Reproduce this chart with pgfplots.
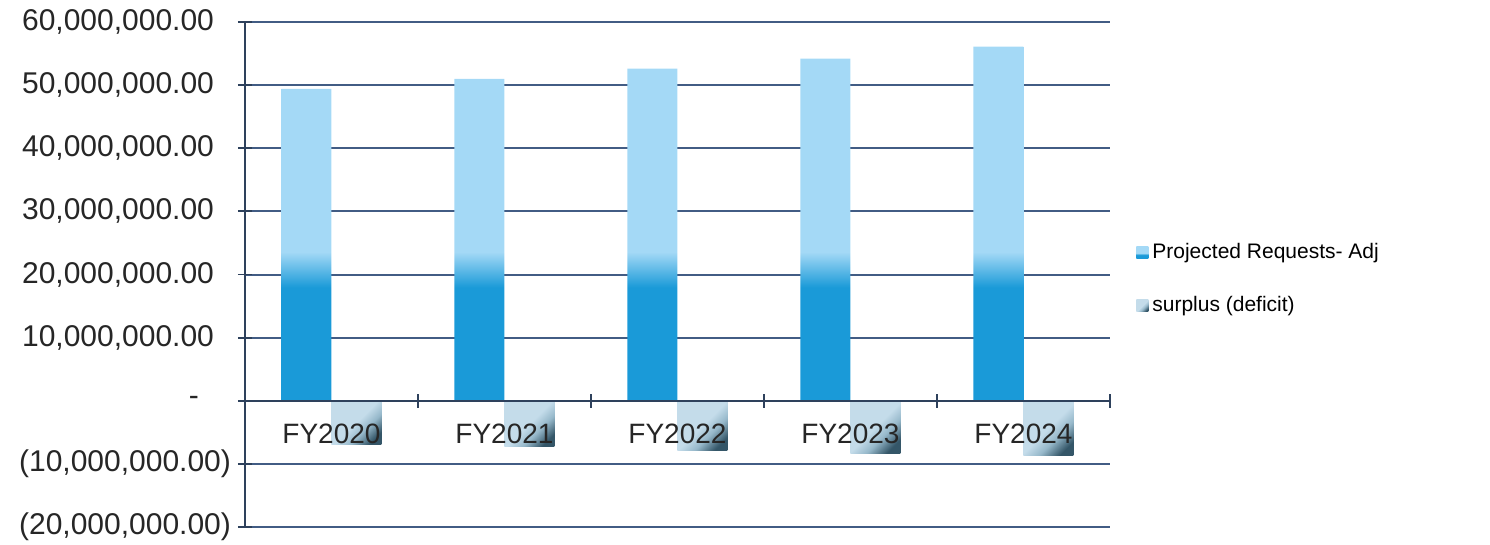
\documentclass[border=0pt]{standalone}
\usepackage{fontspec}
\setmainfont{Liberation Sans}
\usepackage{pgfplots}
\pgfplotsset{compat=1.18}

\definecolor{reqlight}{RGB}{164,217,246}
\definecolor{reqdeep}{RGB}{26,154,216}
\definecolor{surlight}{RGB}{196,220,234}
\definecolor{surmid}{RGB}{150,184,202}
\definecolor{surdark}{RGB}{52,86,104}
\definecolor{gridc}{RGB}{66,92,132}

% bars: deep blue low, light blue above ~23M
\pgfdeclareverticalshading{reqshade}{100bp}{color(0bp)=(reqdeep); color(25bp)=(reqdeep); color(41bp)=(reqdeep); color(46bp)=(reqlight); color(100bp)=(reqlight)}
\pgfdeclareverticalshading{surshade}{100bp}{color(0bp)=(surdark); color(24bp)=(surdark); color(38bp)=(surmid); color(50bp)=(surlight); color(100bp)=(surlight)}

% tick labels and axis lines above the bars, grid below
\pgfplotsset{
  layers/barsbelow/.define layer set={axis background,axis grid,pre main,main,axis ticks,axis lines,axis tick labels,axis descriptions,axis foreground}{
    grid style={/pgfplots/on layer=axis grid},
    tick style={/pgfplots/on layer=axis ticks},
    axis line style={/pgfplots/on layer=axis lines},
    label style={/pgfplots/on layer=axis descriptions},
    legend style={/pgfplots/on layer=axis descriptions},
    title style={/pgfplots/on layer=axis descriptions},
    ticklabel style={/pgfplots/on layer=axis tick labels},
  },
  sq legend/.style={legend image code/.code={\path[##1, draw=none] (0pt,-3pt) rectangle (6pt,3pt);}},
  sur bar/.style={draw=none, shade, shading=surshade, shading angle=45, bar shift=12.5pt},
}

\begin{document}
\begin{tikzpicture}
% values in millions
\begin{axis}[
  at={(0pt,0pt)}, anchor=south west,
  scale only axis, width=432.5pt, height=252.5pt,
  set layers=barsbelow,
  ybar=0pt, bar width=25pt,
  xmin=-0.5, xmax=4.5,
  ymin=-20, ymax=60,
  axis x line*=middle, axis y line*=left,
  axis line style={gridc!70!black, line width=1.1pt},
  ymajorgrids, grid style={gridc, line width=1pt},
  tick style={gridc!70!black, line width=0.9pt},
  tick align=center, major tick length=7pt,
  ytick={-20,-10,0,10,20,30,40,50,60},
  yticklabels={{(20,000,000.00)},{(10,000,000.00)},{-\kern16pt},
    {10,000,000.00\kern8.5pt},{20,000,000.00\kern8.5pt},{30,000,000.00\kern8.5pt},
    {40,000,000.00\kern8.5pt},{50,000,000.00\kern8.5pt},{60,000,000.00\kern8.5pt}},
  xtick={-0.5,0.5,1.5,2.5,3.5,4.5},
  xticklabels={{},{},{},{},{},{}},
  extra x ticks={0,1,2,3,4},
  extra x tick labels={FY2020,FY2021,FY2022,FY2023,FY2024},
  extra x tick style={major tick length=0pt},
  ticklabel style={text=black!85},
  yticklabel style={anchor=east, font=\fontsize{15}{17}\selectfont},
  xticklabel style={anchor=north, yshift=-8pt, font=\fontsize{14}{16}\selectfont},
  legend style={draw=none, fill=none, at={(1,0.491)}, anchor=west, xshift=10pt,
    font=\fontsize{10.5}{12.5}\selectfont, row sep=13.5pt, legend cell align=left},
]
\addplot[draw=none, shade, shading=reqshade, bar shift=-12.5pt, sq legend]
  coordinates {(0,49.4) (1,51.0) (2,52.6) (3,54.2) (4,56.1)};
\addplot[sur bar, sq legend] coordinates {(0,-6.9)};
\addplot[sur bar, forget plot] coordinates {(1,-7.3)};
\addplot[sur bar, forget plot] coordinates {(2,-7.9)};
\addplot[sur bar, forget plot] coordinates {(3,-8.3)};
\addplot[sur bar, forget plot] coordinates {(4,-8.7)};
\legend{Projected Requests- Adj, surplus (deficit)}
\end{axis}
\pgfresetboundingbox
\path[use as bounding box] (-122.5pt,-9pt) rectangle (622.5pt,263.5pt);
\end{tikzpicture}
\end{document}
